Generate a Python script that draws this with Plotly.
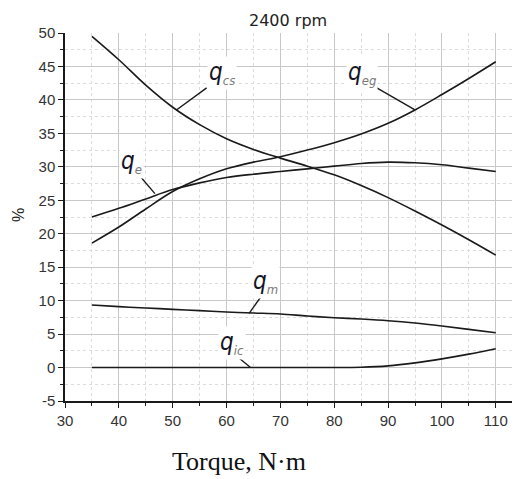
import plotly.graph_objects as go

torque = [35, 40, 45, 50, 55, 60, 65, 70, 75, 80, 85, 90, 95, 100, 105, 110]
q_cs = [49.5, 46.0, 42.2, 38.9, 36.3, 34.2, 32.6, 31.3, 30.1, 28.8, 27.2, 25.4, 23.4, 21.3, 19.1, 16.8]
q_eg = [18.6, 21.0, 23.7, 26.3, 28.2, 29.7, 30.7, 31.5, 32.5, 33.6, 34.9, 36.5, 38.5, 40.8, 43.2, 45.7]
q_e = [22.5, 23.8, 25.2, 26.6, 27.6, 28.4, 28.9, 29.3, 29.7, 30.1, 30.5, 30.7, 30.6, 30.3, 29.8, 29.3]
q_m = [9.35, 9.1, 8.9, 8.7, 8.5, 8.3, 8.15, 8.0, 7.7, 7.45, 7.25, 7.0, 6.65, 6.2, 5.7, 5.2]
q_ic = [0, 0, 0, 0, 0, 0, 0, 0, 0, 0, 0.05, 0.25, 0.7, 1.3, 2.0, 2.8]

y_tickvals = [-5, 0, 5, 10, 15, 20, 25, 30, 35, 40, 45, 50]
y_ticktext = ["-5", "0", "5", "10", "15", "20", "25", "30", "35", "40", "45", "50"]

series = [q_cs, q_eg, q_e, q_m, q_ic]

# label texts, label positions and leader lines (data coordinates)
labels = [("cs", 59.2, 44.0, (56.3, 41.8), (50.7, 38.5)),
          ("eg", 85.2, 44.0, (87.9, 41.8), (95.0, 38.5)),
          ("e", 42.3, 30.7, (43.2, 29.3), (46.7, 26.0)),
          ("m", 67.3, 12.8, (66.3, 10.5), (64.2, 8.1)),
          ("ic", 61.0, 3.6, (62.2, 1.5), (64.4, 0.05))]

# the page body has an 8px margin, so the figure starts at (8, 8)
OFF = 8
W, H = 520 - OFF, 479 - OFF
L, R, T, B = 65 - OFF, 0, 33 - OFF, 78
# plot area in page pixels: x 65..520, y 33..401


def px(x):
    return (x - 65) / 455


def py(y):
    return (401 - y) / 368


fig = go.Figure()
for s in series:
    fig.add_trace(go.Scatter(x=torque, y=s, mode="lines",
                             line=dict(color="#1a1a1a", width=1.6, shape="spline", smoothing=1.0),
                             showlegend=False, hoverinfo="skip"))

for sub, lx, ly, p0, p1 in labels:
    fig.add_shape(type="line", x0=p0[0], y0=p0[1], x1=p1[0], y1=p1[1],
                  line=dict(color="#1a1a1a", width=1.4), layer="above")
    fig.add_annotation(x=lx, y=ly, xref="x", yref="y", showarrow=False,
                       text="<i>q</i><sub><i><span style='color:#7a7a7a;font-size:13px'>%s</span></i></sub>" % sub,
                       font=dict(family="DejaVu Sans Condensed, DejaVu Sans", size=24, color="#151525"),
                       bgcolor="white", borderpad=1)

fig.add_annotation(x=px(288), y=py(20), xref="paper", yref="paper", showarrow=False,
                   text="2400 rpm", font=dict(family="DejaVu Sans, Liberation Sans", size=16, color="#222"),
                   xanchor="center", yanchor="middle")
fig.add_annotation(x=px(18), y=py(215), xref="paper", yref="paper", showarrow=False,
                   text="%", textangle=-90, font=dict(family="Liberation Sans, Arial", size=16, color="#222"),
                   xanchor="center", yanchor="middle")
fig.add_annotation(x=px(239), y=py(461), xref="paper", yref="paper", showarrow=False,
                   text="Torque, N·m", font=dict(family="Liberation Serif, Times New Roman", size=26, color="#111"),
                   xanchor="center", yanchor="middle")

tickfont = dict(family="Liberation Sans, Arial", size=15, color="#333")
fig.update_layout(
    width=W, height=H,
    margin=dict(l=L, r=R, t=T, b=B, autoexpand=False),
    paper_bgcolor="white", plot_bgcolor="white",
    xaxis=dict(range=[30, 114.5], dtick=10, tick0=30, showline=True, linecolor="#1a1a1a", linewidth=1.5,
               ticks="outside", ticklen=5, tickwidth=1.3, tickcolor="#1a1a1a", automargin=False,
               showgrid=True, gridcolor="#c8c8c8", gridwidth=1, zeroline=False, tickfont=tickfont,
               minor=dict(dtick=5, tick0=30, ticks="outside", ticklen=3, tickcolor="#1a1a1a",
                          showgrid=True, gridcolor="#dcdcdc", griddash="dot")),
    yaxis=dict(range=[-5, 50], tickmode="array", tickvals=y_tickvals, ticktext=y_ticktext,
               showline=True, linecolor="#1a1a1a", linewidth=1.5,
               ticks="outside", ticklen=5, tickwidth=1.3, tickcolor="#1a1a1a", automargin=False,
               showgrid=True, gridcolor="#c8c8c8", gridwidth=1, zeroline=False, tickfont=tickfont,
               minor=dict(dtick=2.5, tick0=-5, ticks="outside", ticklen=3, tickcolor="#1a1a1a",
                          showgrid=True, gridcolor="#dcdcdc", griddash="dot")),
)

fig.write_html("out.html")
